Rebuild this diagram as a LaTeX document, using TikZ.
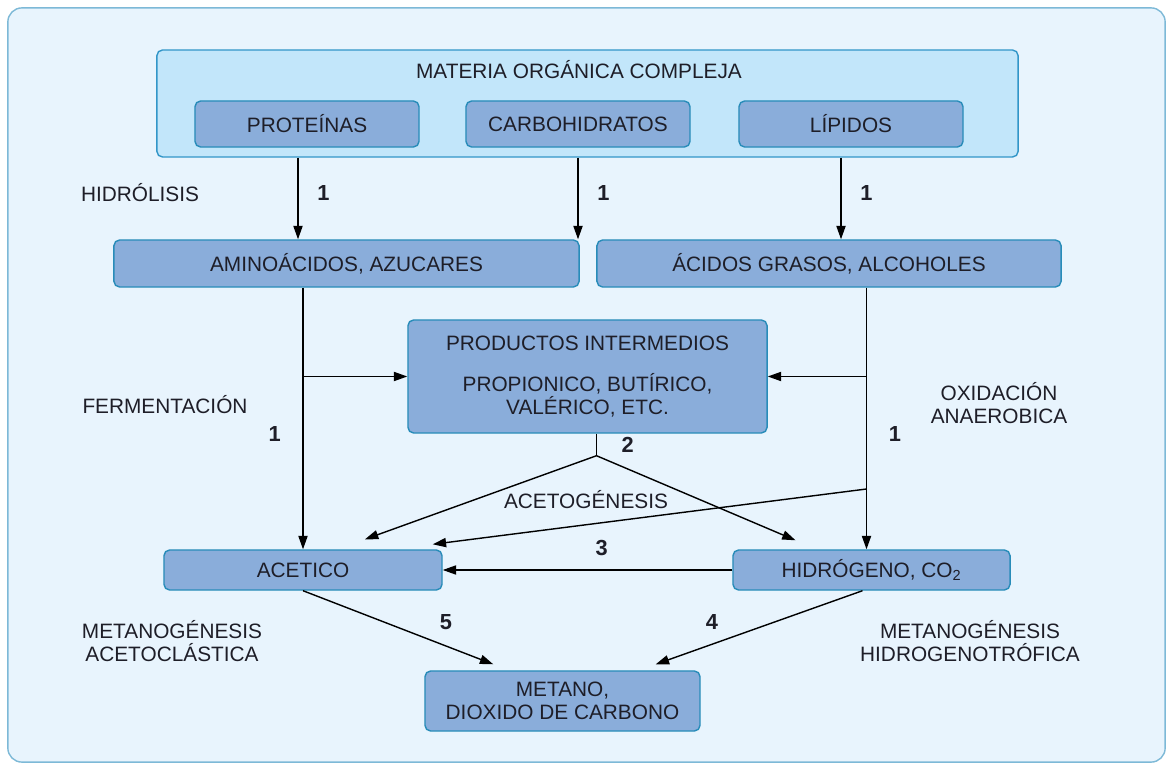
\documentclass[tikz,border=0pt]{standalone}
\usepackage{fontspec}
\setmainfont{Liberation Sans}
\usetikzlibrary{arrows.meta, positioning, calc}
\definecolor{panelblue}{RGB}{232, 244, 253}
\definecolor{panelline}{RGB}{125, 185, 215}
\definecolor{groupblue}{RGB}{194, 230, 250}
\definecolor{groupline}{RGB}{50, 150, 200}
\definecolor{boxblue}{RGB}{138, 173, 218}
\definecolor{boxline}{RGB}{40, 140, 185}
\definecolor{inkdark}{RGB}{30, 30, 40}

\begin{document}
\begin{tikzpicture}[x=0.025cm, y=-0.025cm,
  bx/.style={draw=boxline, fill=boxblue, line width=1pt, rounded corners=4pt, align=center, text=inkdark, font=\fontsize{14.8}{16}\selectfont},
  lbl/.style={align=center, text=inkdark, font=\fontsize{14.8}{16}\selectfont},
  num/.style={font=\fontsize{15.5}{18}\selectfont\bfseries, text=inkdark},
  arr/.style={-{Triangle[length=9.5pt, width=6.5pt]}, line width=1pt},
]
  \fill[white] (0,0) rectangle (1170,766);
  \node[draw=panelline, fill=panelblue, line width=1pt, rounded corners=10pt, minimum width=28.925cm, minimum height=18.85cm] (panel) at (586.5,385) {};

  % materia organica
  \node[bx, draw=groupline, fill=groupblue, minimum width=21.525cm, minimum height=2.675cm] (mat) at (587.5,103.5) {};
  \node[lbl] (matlbl) at (579,70) {MATERIA ORGÁNICA COMPLEJA};
  \node[bx, minimum width=5.6cm, minimum height=1.15cm] (prot) at (307,124) {PROTEÍNAS};
  \node[bx, minimum width=5.6cm, minimum height=1.15cm] (carb) at (578,124) {CARBOHIDRATOS};
  \node[bx, minimum width=5.6cm, minimum height=1.15cm] (lip) at (851,124) {LÍPIDOS};

  \node[bx, minimum width=11.625cm, minimum height=1.175cm] (amino) at (346.5,263.5) {AMINOÁCIDOS, AZUCARES};
  \node[bx, minimum width=11.6cm, minimum height=1.175cm] (acid) at (829,263.5) {ÁCIDOS GRASOS, ALCOHOLES};
  \node[bx, minimum width=8.975cm, minimum height=2.825cm] (prod) at (587.5,376.5) {PRODUCTOS INTERMEDIOS\\[13pt]PROPIONICO, BUTÍRICO,\\VALÉRICO, ETC.};
  \node[bx, minimum width=6.95cm, minimum height=1cm] (acet) at (303,570) {ACETICO};
  \node[bx, minimum width=6.925cm, minimum height=1cm] (hidr) at (871.5,570) {HIDRÓGENO, CO\textsubscript{2}};
  \node[bx, minimum width=6.875cm, minimum height=1.5cm] (meta) at (562.5,701) {METANO,\\DIOXIDO DE CARBONO};

  % etapas
  \node[lbl] (hidrol) at (140,193) {HIDRÓLISIS};
  \node[lbl] (ferm) at (165,405) {FERMENTACIÓN};
  \node[lbl] (oxid) at (999,403) {OXIDACIÓN\\ANAEROBICA};
  \node[lbl] (acetog) at (586,500) {ACETOGÉNESIS};
  \node[lbl] (metac) at (172,641) {METANOGÉNESIS\\ACETOCLÁSTICA};
  \node[lbl] (metah) at (970,641) {METANOGÉNESIS\\HIDROGENOTRÓFICA};

  \coordinate (protdrop) at ($(prot.south)+(-9,0)$);
  \coordinate (lipdrop) at ($(lip.south)+(-10,0)$);
  \coordinate (oxline) at ($(hidr.north)+(-5,0)$);
  \draw[arr] (protdrop |- mat.south) -- node[num, right=10pt, pos=0.43] {1} (protdrop |- amino.north);
  \draw[arr] (carb.south |- mat.south) -- node[num, right=10pt, pos=0.43] {1} (carb.south |- amino.north);
  \draw[arr] (lipdrop |- mat.south) -- node[num, right=10pt, pos=0.43] {1} (lipdrop |- acid.north);

  \draw[arr] (acet.north |- amino.south) -- node[num, left=12pt, pos=0.56] {1} (acet.north);
  \draw[arr] (acet.north |- prod.west) -- (prod.west);
  \draw[arr] (oxline |- acid.south) -- node[num, right=12pt, pos=0.56] {1} (oxline);
  \draw[arr] (oxline |- prod.east) -- (prod.east);

  \coordinate (oxsplit) at (oxline |- 0,489);
  \draw[arr] (oxsplit) -- ($(acet.north east)+(-10,-5)$);
  \coordinate (fork) at ($(prod.south)+(9,22)$);
  \draw[line width=1pt] (prod.south -| fork) -- node[num, right=14pt] {2} (fork);
  \draw[arr] (fork) -- ($(acet.north)+(62,-10)$);
  \draw[arr] (fork) -- ($(hidr.north)+(-76,-9)$);
  \draw[arr] (hidr.west) -- node[num, above=6pt, xshift=10pt] {3} (hidr.west -| acet.east);

  \draw[arr] ($(hidr.south)+(-9,0)$) -- ($(meta.north east)+(-45,-6)$);
  \draw[arr] (acet.south) -- ($(meta.north west)+(69,-6)$);
  \node[num] (n5) at (446,622) {5};
  \node[num] (n4) at (712,622) {4};
\end{tikzpicture}
\end{document}
